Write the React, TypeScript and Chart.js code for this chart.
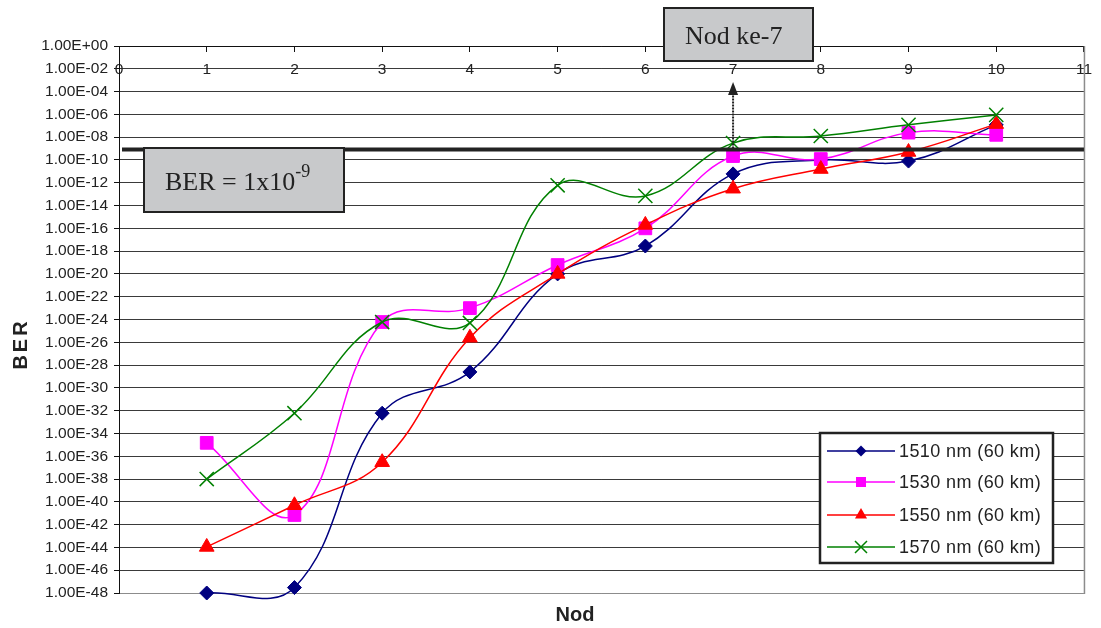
import React, { useEffect, useRef } from 'react';
import { Chart, registerables } from 'chart.js';

Chart.register(...registerables);

// ---- data ----
const nodes = [1, 2, 3, 4, 5, 6, 7, 8, 9, 10];
const seriesNames = ['1510 nm (60 km)', '1530 nm (60 km)', '1550 nm (60 km)', '1570 nm (60 km)'];
const ber1510 = [1e-48, 3e-48, 6e-33, 2.5e-29, 1e-20, 2.8e-18, 6e-12, 1e-10, 8e-11, 1.2e-7];
const ber1530 = [1.5e-35, 7e-42, 6e-25, 1e-23, 6e-20, 1e-16, 2.2e-10, 1.2e-10, 2.5e-8, 1.6e-8];
const ber1550 = [1.1e-44, 5e-41, 3e-37, 2.5e-26, 1e-20, 2e-16, 3e-13, 1.6e-11, 5e-10, 1.4e-7];
const ber1570 = [1e-38, 6e-33, 6e-25, 5e-25, 6e-13, 7e-14, 3e-9, 1.26e-8, 1.2e-7, 9e-7];
const yTickValues = [
  1e-48, 1e-46, 1e-44, 1e-42, 1e-40, 1e-38, 1e-36, 1e-34, 1e-32, 1e-30, 1e-28, 1e-26, 1e-24,
  1e-22, 1e-20, 1e-18, 1e-16, 1e-14, 1e-12, 1e-10, 1e-8, 1e-6, 1e-4, 1e-2, 1,
];
const xMin = 0;
const xMax = 11;
const berThreshold = 1e-9;
const markedNode = 7;
const berBoxMain = 'BER = 1x10';
const berBoxSup = '-9';
const nodBoxText = 'Nod ke-7';
const xTitle = 'Nod';
const yTitle = 'BER';

// ---- styles ----
const seriesStyles = [
  { color: '#000080', pointStyle: 'rectRot', radius: 7, legendR: 5.5 },
  { color: '#ff00ff', pointStyle: 'rect', radius: 9, legendR: 5 },
  { color: '#ff0000', pointStyle: 'triangle', radius: 8.5, legendR: 7 },
  { color: '#008000', pointStyle: 'crossRot', radius: 10, legendR: 6 },
];
const seriesValues = [ber1510, ber1530, ber1550, ber1570];
const TEXT = '#222222';
const SANS = "'Liberation Sans', Arial, sans-serif";
const SERIF = "'Liberation Serif', 'Times New Roman', serif";
const BOX_FILL = '#c8c9cb';

function formatExp(v: number) {
  const e = Math.round(Math.log10(v));
  return '1.00E' + (e < 0 ? '-' : '+') + String(Math.abs(e)).padStart(2, '0');
}

function drawMarker(ctx: CanvasRenderingContext2D, style: string, x: number, y: number, r: number, color: string) {
  ctx.save();
  ctx.fillStyle = color;
  ctx.strokeStyle = color;
  ctx.lineWidth = 1.5;
  ctx.beginPath();
  if (style === 'rectRot') {
    ctx.moveTo(x, y - r);
    ctx.lineTo(x + r, y);
    ctx.lineTo(x, y + r);
    ctx.lineTo(x - r, y);
    ctx.closePath();
    ctx.fill();
  } else if (style === 'rect') {
    ctx.rect(x - r, y - r, 2 * r, 2 * r);
    ctx.fill();
  } else if (style === 'triangle') {
    ctx.moveTo(x, y - r);
    ctx.lineTo(x + r * 0.866, y + r * 0.5);
    ctx.lineTo(x - r * 0.866, y + r * 0.5);
    ctx.closePath();
    ctx.fill();
  } else {
    ctx.moveTo(x - r, y - r);
    ctx.lineTo(x + r, y + r);
    ctx.moveTo(x + r, y - r);
    ctx.lineTo(x - r, y + r);
    ctx.stroke();
  }
  ctx.restore();
}

const decorPlugin = {
  id: 'decor',
  beforeDatasetsDraw(chart: any) {
    const { ctx, chartArea } = chart;
    ctx.save();
    ctx.strokeStyle = '#8c8c8c';
    ctx.lineWidth = 1.5;
    ctx.beginPath();
    ctx.moveTo(chartArea.right + 0.5, chartArea.top);
    ctx.lineTo(chartArea.right + 0.5, chartArea.bottom + 1);
    ctx.stroke();
    ctx.restore();
  },
  afterDatasetsDraw(chart: any) {
    const { ctx, chartArea, scales } = chart;
    const yB = scales.y.getPixelForValue(berThreshold);
    const xA = scales.x.getPixelForValue(markedNode);
    ctx.save();

    // BER threshold line
    ctx.strokeStyle = '#222';
    ctx.lineWidth = 4;
    ctx.beginPath();
    ctx.moveTo(chartArea.left + 3, yB + 1);
    ctx.lineTo(chartArea.right, yB + 1);
    ctx.stroke();

    // dotted arrow
    ctx.lineWidth = 2;
    ctx.setLineDash([2, 1]);
    ctx.beginPath();
    ctx.moveTo(xA, yB);
    ctx.lineTo(xA, 94);
    ctx.stroke();
    ctx.setLineDash([]);
    ctx.fillStyle = '#222';
    ctx.beginPath();
    ctx.moveTo(xA, 82);
    ctx.lineTo(xA + 5, 95);
    ctx.lineTo(xA - 5, 95);
    ctx.closePath();
    ctx.fill();

    // BER box
    ctx.fillStyle = BOX_FILL;
    ctx.strokeStyle = '#222';
    ctx.lineWidth = 2;
    ctx.fillRect(144, 148, 200, 64);
    ctx.strokeRect(144, 148, 200, 64);
    ctx.fillStyle = TEXT;
    ctx.textAlign = 'left';
    ctx.textBaseline = 'alphabetic';
    ctx.font = `26px ${SERIF}`;
    ctx.fillText(berBoxMain, 165, 190);
    const w = ctx.measureText(berBoxMain).width;
    ctx.font = `18px ${SERIF}`;
    ctx.fillText(berBoxSup, 165 + w, 177);

    // Nod ke-7 box
    ctx.fillStyle = BOX_FILL;
    ctx.fillRect(664, 8, 149, 53);
    ctx.strokeRect(664, 8, 149, 53);
    ctx.fillStyle = TEXT;
    ctx.font = `26px ${SERIF}`;
    ctx.fillText(nodBoxText, 685, 44);

    // legend
    ctx.fillStyle = '#ffffff';
    ctx.fillRect(820, 433, 233, 130);
    ctx.strokeStyle = '#222';
    ctx.lineWidth = 2.5;
    ctx.strokeRect(820, 433, 233, 130);
    const rows = [451, 482, 515, 547];
    ctx.font = `18px ${SANS}`;
    (ctx as any).letterSpacing = '0.4px';
    ctx.textBaseline = 'middle';
    seriesNames.forEach((name, i) => {
      const st = seriesStyles[i];
      const y = rows[i];
      ctx.strokeStyle = st.color;
      ctx.lineWidth = 1.5;
      ctx.beginPath();
      ctx.moveTo(827, y);
      ctx.lineTo(895, y);
      ctx.stroke();
      drawMarker(ctx, st.pointStyle, 861, y, st.legendR, st.color);
      ctx.fillStyle = TEXT;
      ctx.fillText(name, 899, y + 1);
    });
    (ctx as any).letterSpacing = '0px';

    // axis titles
    ctx.fillStyle = TEXT;
    ctx.font = `bold 20px ${SANS}`;
    ctx.textAlign = 'center';
    ctx.textBaseline = 'middle';
    ctx.fillText(xTitle, 575, 615);
    ctx.translate(21, 344);
    ctx.rotate(-Math.PI / 2);
    (ctx as any).letterSpacing = '3px';
    ctx.fillText(yTitle, 0, 0);
    (ctx as any).letterSpacing = '0px';
    ctx.restore();
  },
};

export default function App() {
  const canvasRef = useRef<HTMLCanvasElement | null>(null);

  useEffect(() => {
    const canvas = canvasRef.current;
    if (!canvas) return;
    const datasets = seriesValues.map((vals, i) => ({
      label: seriesNames[i],
      data: nodes.map((n, j) => ({ x: n, y: vals[j] })),
      borderColor: seriesStyles[i].color,
      backgroundColor: seriesStyles[i].color,
      pointBackgroundColor: seriesStyles[i].color,
      pointBorderColor: seriesStyles[i].color,
      pointBorderWidth: seriesStyles[i].pointStyle === 'crossRot' ? 1.5 : 1,
      pointStyle: seriesStyles[i].pointStyle,
      pointRadius: seriesStyles[i].radius,
      borderWidth: 1.5,
      tension: 0.4,
      fill: false,
      clip: false,
      order: seriesValues.length - 1 - i,
    }));

    const chart = new Chart(canvas, {
      type: 'line',
      data: { datasets },
      plugins: [decorPlugin],
      options: {
        animation: false,
        responsive: false,
        devicePixelRatio: 1,
        layout: { padding: { left: 0, top: 46, right: 16, bottom: 35 } },
        elements: { line: { capBezierPoints: false } },
        plugins: { legend: { display: false }, tooltip: { enabled: false } },
        scales: {
          x: {
            type: 'linear',
            position: { y: 1 } as any,
            min: xMin,
            max: xMax,
            afterFit: (s: any) => { s.height = 0; },
            border: { display: true, color: '#111', width: 1 },
            grid: { drawOnChartArea: false, drawTicks: true, tickLength: 5, color: '#111' },
            ticks: {
              stepSize: 1,
              padding: 9,
              color: TEXT,
              font: { family: SANS, size: 15.5 },
              maxRotation: 0,
              autoSkip: false,
            },
          },
          y: {
            type: 'logarithmic',
            position: 'left',
            min: yTickValues[0],
            max: yTickValues[yTickValues.length - 1],
            afterFit: (s: any) => { s.width = 119; },
            afterBuildTicks: (s: any) => { s.ticks = yTickValues.map((v) => ({ value: v })); },
            border: { display: true, color: '#111', width: 1 },
            grid: {
              drawTicks: true,
              tickLength: 5,
              tickColor: '#111',
              lineWidth: 1,
              color: (c: any) => (c.tick && c.tick.value <= 1.0001e-48 ? '#8c8c8c' : '#3a3a3a'),
            },
            ticks: {
              padding: 6,
              autoSkip: false,
              color: TEXT,
              font: { family: SANS, size: 15.5 },
              callback: (v: any) => formatExp(Number(v)),
            },
          },
        },
      } as any,
    });
    return () => chart.destroy();
  }, []);

  return (
    <div style={{ position: 'fixed', left: 0, top: 0, width: 1101, height: 628, background: '#fff' }}>
      <canvas ref={canvasRef} width={1101} height={628} style={{ width: 1101, height: 628, display: 'block' }} />
    </div>
  );
}
